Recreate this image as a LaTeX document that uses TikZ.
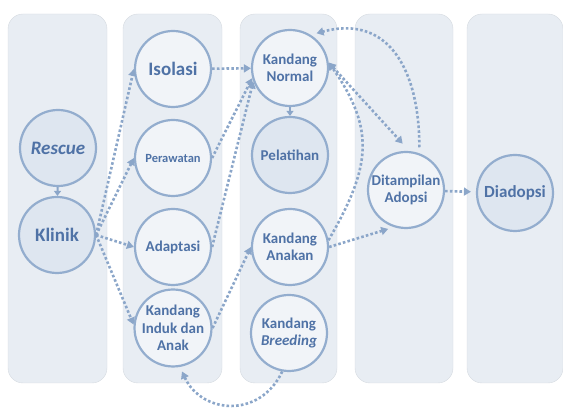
\documentclass[tikz,border=0pt]{standalone}
\usepackage{fontspec}
\setmainfont{Carlito}
\usetikzlibrary{arrows.meta}

\definecolor{colfill}{HTML}{E8EDF3}
\definecolor{colline}{HTML}{D5DAE0}
\definecolor{ringblue}{HTML}{93ADCE}
\definecolor{darkfill}{HTML}{DEE6F0}
\definecolor{lightfill}{HTML}{F1F4F8}
\definecolor{textblue}{HTML}{4F72A6}
\definecolor{arrowblue}{HTML}{8BA6C9}

\begin{document}
\begin{tikzpicture}[x=1pt, y=1pt,
  stage/.style={circle, draw=ringblue, line width=2.2pt, minimum size=76pt, inner sep=0pt,
    align=center, text=textblue, font=\bfseries\fontsize{15}{17.5}\selectfont},
  dark/.style={stage, fill=darkfill},
  light/.style={stage, fill=lightfill},
  flow/.style={arrowblue, line width=2.6pt, dash pattern=on 2.6pt off 2.2pt,
    -{Triangle[length=7pt,width=8pt]}},
  solidflow/.style={arrowblue, line width=2pt, -{Triangle[length=5pt,width=7pt]}}
]

  \useasboundingbox (0,0) rectangle (563,412);

  % Columns
  \foreach \xa/\xb in {8/107, 123/222, 240/337, 355/453, 467/563} {
    \draw[colline, fill=colfill, rounded corners=15pt] (\xa,29) rectangle (\xb,398);
  }

  % Column 1
  \node[dark] (rescue) at (58,264) {\fontsize{19}{22}\selectfont\itshape Rescue};
  \node[dark] (klinik) at (57,177) {\fontsize{19}{22}\selectfont Klinik};

  % Column 2
  \node[light] (isolasi)   at (173,343) {\fontsize{19}{22}\selectfont Isolasi};
  \node[light] (perawatan) at (173,254) {\fontsize{12.5}{15}\selectfont Perawatan};
  \node[light] (adaptasi)  at (173,165) {Adaptasi};
  \node[light] (induk)     at (173,84)  {Kandang\\Induk dan\\Anak};

  % Column 3
  \node[light] (normal)    at (290,344) {Kandang\\Normal};
  \node[dark]  (pelatihan) at (290,257) {Pelatihan};
  \node[light] (anakan)    at (290,165) {Kandang\\Anakan};
  \node[light] (breeding)  at (289,79)  {Kandang\\\textit{Breeding}};

  % Column 4 and 5
  \node[light] (ditampilan) at (406,222) {Ditampilan\\Adopsi};
  \node[dark]  (diadopsi)   at (515,219) {\fontsize{17}{20}\selectfont Diadopsi};

  % Flows
  \draw[solidflow] (rescue) -- (klinik);
  \draw[flow] (klinik.east) -- (isolasi.west);
  \draw[flow] (klinik.east) -- (perawatan.west);
  \draw[flow] (klinik.east) -- (adaptasi.west);
  \draw[flow] (klinik.east) -- (induk.175);
  \draw[flow] (isolasi) -- (normal);
  \draw[flow] (perawatan.east) -- (normal.195);
  \draw[flow] (adaptasi.east) -- (normal.200);
  \draw[flow] (induk.east) -- (anakan.west);
  \draw[solidflow] (normal) -- (pelatihan);
  \draw[flow, {Triangle[length=7pt,width=8pt]}-{Triangle[length=7pt,width=8pt]}, shorten >=10pt]
    (normal.8) -- (ditampilan.85);
  \draw[flow] (anakan.10) to[out=60, in=-55, looseness=1.2] (normal.8);
  \draw[flow, shorten >=6pt] (anakan.east) -- (ditampilan.252);
  \draw[flow, shorten >=5pt] (ditampilan) -- (diadopsi);
  \draw[flow, shorten <=6pt, shorten >=6pt] (ditampilan.70) to[out=90, in=15, looseness=1.3] (normal.58);
  \draw[flow, shorten >=5pt] (breeding.260) to[out=-115, in=-65, looseness=1.3] (induk.280);

\end{tikzpicture}
\end{document}
